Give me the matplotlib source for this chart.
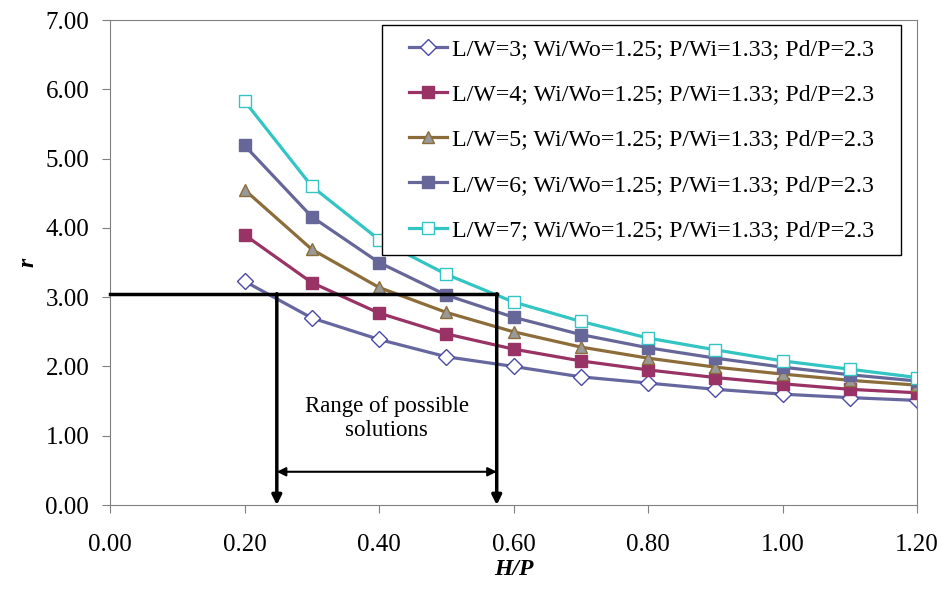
import matplotlib.pyplot as plt
from matplotlib.patches import Rectangle

# H/P values and r for each L/W
hp = [0.2, 0.3, 0.4, 0.5, 0.6, 0.7, 0.8, 0.9, 1.0, 1.1, 1.2]
r_lw3 = [3.23, 2.70, 2.39, 2.14, 2.00, 1.85, 1.76, 1.67, 1.60, 1.55, 1.51]
r_lw4 = [3.90, 3.21, 2.77, 2.47, 2.25, 2.08, 1.95, 1.84, 1.75, 1.67, 1.62]
r_lw5 = [4.55, 3.69, 3.14, 2.78, 2.50, 2.28, 2.12, 1.99, 1.89, 1.80, 1.73]
r_lw6 = [5.19, 4.16, 3.50, 3.03, 2.71, 2.46, 2.27, 2.12, 1.99, 1.88, 1.79]
r_lw7 = [5.83, 4.60, 3.83, 3.33, 2.93, 2.65, 2.41, 2.24, 2.08, 1.96, 1.84]
labels = ['L/W=%d; Wi/Wo=1.25; P/Wi=1.33; Pd/P=2.3' % k for k in [3, 4, 5, 6, 7]]

# solution range annotation
r_target = 3.05
hp_lo, hp_hi = 0.248, 0.575

plt.rcParams['font.family'] = 'Liberation Serif'

fig = plt.figure(figsize=(9.42, 5.94), dpi=100)
ax = fig.add_axes([0.1168, 0.1498, 0.8567, 0.8165])

ax.plot(hp, r_lw3, color='#6767a0', lw=2.3, marker='D', ms=8, mfc='white', mec='#4a4aa6', mew=1.0, label=labels[0])
ax.plot(hp, r_lw4, color='#993366', lw=2.3, marker='s', ms=8.5, mfc='#993366', mec='#993366', label=labels[1])
ax.plot(hp, r_lw5, color='#8c6d3a', lw=2.3, marker='^', ms=9, mfc='#999999', mec='#8c6d3a', mew=1.0, label=labels[2])
ax.plot(hp, r_lw6, color='#666699', lw=2.3, marker='s', ms=9, mfc='#666699', mec='#666699', label=labels[3])
ax.plot(hp, r_lw7, color='#33c4c4', lw=2.3, marker='s', ms=9, mfc='white', mec='#33c4c4', mew=1.0, label=labels[4])

# range of possible solutions
ax.plot([0, hp_hi], [r_target, r_target], color='black', lw=2.5, clip_on=False, zorder=5)
ax.annotate('', xy=(hp_lo, 0), xytext=(hp_lo, r_target),
            arrowprops=dict(arrowstyle='-|>', color='black', lw=2.5, mutation_scale=14, shrinkA=0, shrinkB=0), zorder=5)
ax.annotate('', xy=(hp_hi, 0), xytext=(hp_hi, r_target),
            arrowprops=dict(arrowstyle='-|>', color='black', lw=2.5, mutation_scale=14, shrinkA=0, shrinkB=0), zorder=5)
ax.annotate('', xy=(hp_lo, 0.48), xytext=(hp_hi, 0.48),
            arrowprops=dict(arrowstyle='<|-|>', color='black', lw=1.5, mutation_scale=13, shrinkA=0, shrinkB=0))
ax.text((hp_lo + hp_hi) / 2, 1.25, 'Range of possible\nsolutions', ha='center', va='center', fontsize=16.5, linespacing=1.2)

ax.set_xlim(0, 1.2)
ax.set_ylim(0, 7)
ax.set_xticks([0, 0.2, 0.4, 0.6, 0.8, 1.0, 1.2])
ax.set_yticks(range(8))
ax.set_xticklabels(['%.2f' % v for v in [0, 0.2, 0.4, 0.6, 0.8, 1.0, 1.2]])
ax.set_yticklabels(['%.2f' % v for v in range(8)])
ax.tick_params(labelsize=18, color='#808080', length=6, direction='out')
ax.tick_params(axis='x', pad=15)
ax.tick_params(axis='y', pad=9)
for s in ax.spines.values():
    s.set_color('#808080')

ax.set_xlabel('H/P', fontsize=17, fontweight='bold', fontstyle='italic', labelpad=2)
ax.set_ylabel('r', fontsize=17, fontweight='bold', fontstyle='italic', labelpad=5)

# legend box drawn separately (Excel-style padding)
box_x0, box_y0, box_x1, box_y1 = 0.3375, 0.5165, 0.980, 0.9897
ax.add_patch(Rectangle((box_x0, box_y0), box_x1 - box_x0, box_y1 - box_y0, transform=ax.transAxes,
                       facecolor='white', edgecolor='black', lw=1.0, zorder=4.8))
leg = ax.legend(loc='center', bbox_to_anchor=((box_x0 + box_x1) / 2, (box_y0 + box_y1) / 2), borderaxespad=0,
                fontsize=17.2, frameon=False, handlelength=1.6, handletextpad=0.2, labelspacing=0.98,
                borderpad=0.5)
leg.set_zorder(6)

fig.savefig('out.png', dpi=100)
